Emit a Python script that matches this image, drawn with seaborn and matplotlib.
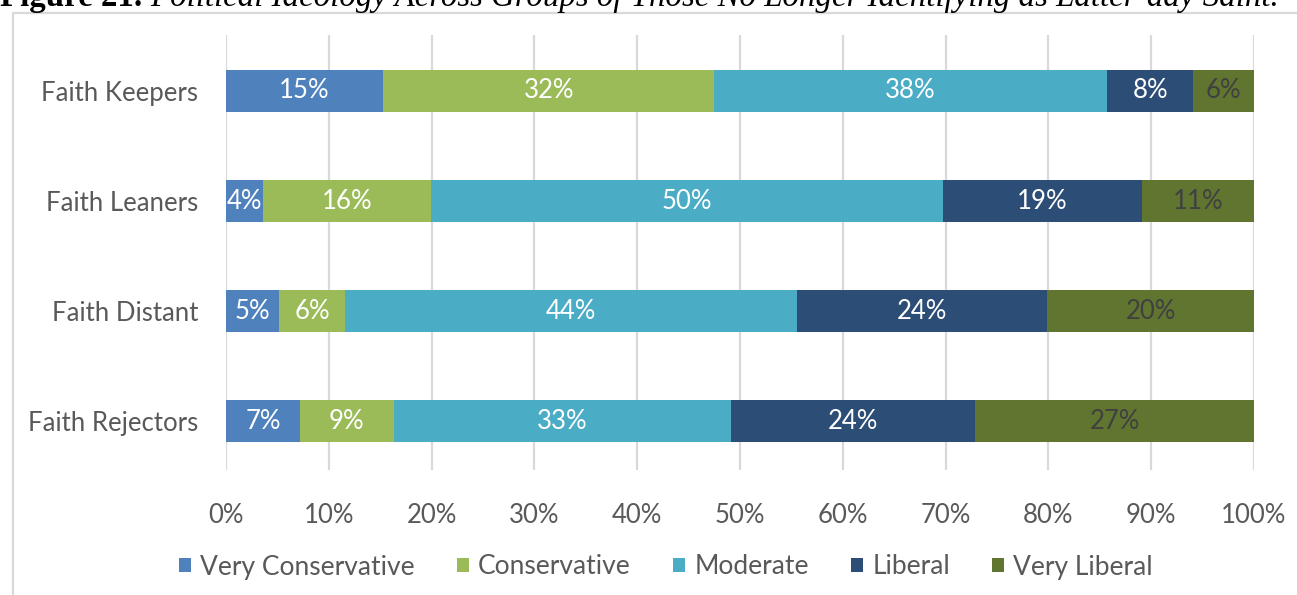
import matplotlib
matplotlib.use("Agg")
import matplotlib.pyplot as plt
import seaborn as sns
import pandas as pd
from matplotlib.patches import Patch, Rectangle

# Share of each group by political ideology (percent)
groups = ["Faith Keepers", "Faith Leaners", "Faith Distant", "Faith Rejectors"]
very_conservative = [15.3, 3.6, 5.2, 7.2]
conservative = [32.2, 16.3, 6.4, 9.1]
moderate = [38.2, 49.8, 43.9, 32.8]
liberal = [8.4, 19.4, 24.4, 23.8]
very_liberal = [5.9, 10.9, 20.1, 27.1]
series_names = ["Very Conservative", "Conservative", "Moderate", "Liberal", "Very Liberal"]
x_ticks = [0, 10, 20, 30, 40, 50, 60, 70, 80, 90, 100]
x_tick_labels = [f"{t}%" for t in x_ticks]

colors = ["#4F81BD", "#9BBB59", "#4BACC6", "#2C4D75", "#5F7530"]
label_colors = ["white", "white", "white", "white", "#404040"]
text_gray = "#595959"

sns.set_theme(style="white")
plt.rcParams["font.family"] = ["Lato", "DejaVu Sans"]

df = pd.DataFrame(
    dict(zip(series_names, [very_conservative, conservative, moderate, liberal, very_liberal])),
    index=groups,
)
ends = df.cumsum(axis=1)
starts = ends - df

W, H = 1297, 595
fig = plt.figure(figsize=(W / 100, H / 100), dpi=100)
fig.patch.set_facecolor("white")

# Frame around the chart area
fig.patches.append(Rectangle((13 / W, -0.05), 1.1, (H - 13) / H + 0.05,
                             transform=fig.transFigure, fill=False,
                             edgecolor="#d9d9d9", linewidth=1.6, zorder=0))

# Caption (partially above the canvas edge)
renderer = fig.canvas.get_renderer()
cap_y = 1 - 6 / H
t1 = fig.text(0.0, cap_y, "Figure 21. ", fontsize=23.7, fontweight="bold",
              family="Liberation Serif", va="baseline", ha="left", color="black")
bb = t1.get_window_extent(renderer=renderer)
fig.text(bb.x1 / W, cap_y,
         "Political Ideology Across Groups of Those No Longer Identifying as Latter-day Saint.",
         fontsize=23.7, fontstyle="italic", family="Liberation Serif",
         va="baseline", ha="left", color="black")

ax = fig.add_axes([226 / W, (H - 470) / H, (1254 - 226) / W, 435 / H])

# Stacked bars: draw cumulative totals from the outermost segment inward
for name, col in reversed(list(zip(series_names, colors))):
    sns.barplot(x=ends[name].values, y=groups, orient="h", color=col,
                saturation=1, width=0.39, edgecolor="none", linewidth=0, ax=ax, zorder=3)

# Segment value labels
for name, lc in zip(series_names, label_colors):
    for i, g in enumerate(groups):
        v = df.loc[g, name]
        cx = starts.loc[g, name] + v / 2
        ax.text(cx, i, f"{v:.0f}%", ha="center", va="center", color=lc,
                fontsize=18.5, zorder=5)

ax.set_xlim(0, 100)
ax.set_ylim(3.445, -0.509)
ax.set_xticks(x_ticks)
ax.set_xticklabels(x_tick_labels)
ax.xaxis.grid(True, color="#d9d9d9", linewidth=1.6, zorder=0)
ax.yaxis.grid(False)
ax.set_axisbelow(True)
for s in ax.spines.values():
    s.set_visible(False)
ax.tick_params(axis="x", length=0, pad=24, labelsize=18.5, labelcolor=text_gray)
ax.tick_params(axis="y", length=0, pad=20, labelsize=18.5, labelcolor=text_gray)
ax.set_xlabel("")
ax.set_ylabel("")

handles = [Patch(facecolor=c, edgecolor="none") for c in colors]
fig.legend(handles, series_names, loc="center", bbox_to_anchor=(0.5135, (H - 567) / H),
           ncol=5, frameon=False, handlelength=0.45, handleheight=0.45,
           handletextpad=0.35, columnspacing=1.6, fontsize=19, labelcolor=text_gray)

fig.savefig("out.png", dpi=100, facecolor="white")
